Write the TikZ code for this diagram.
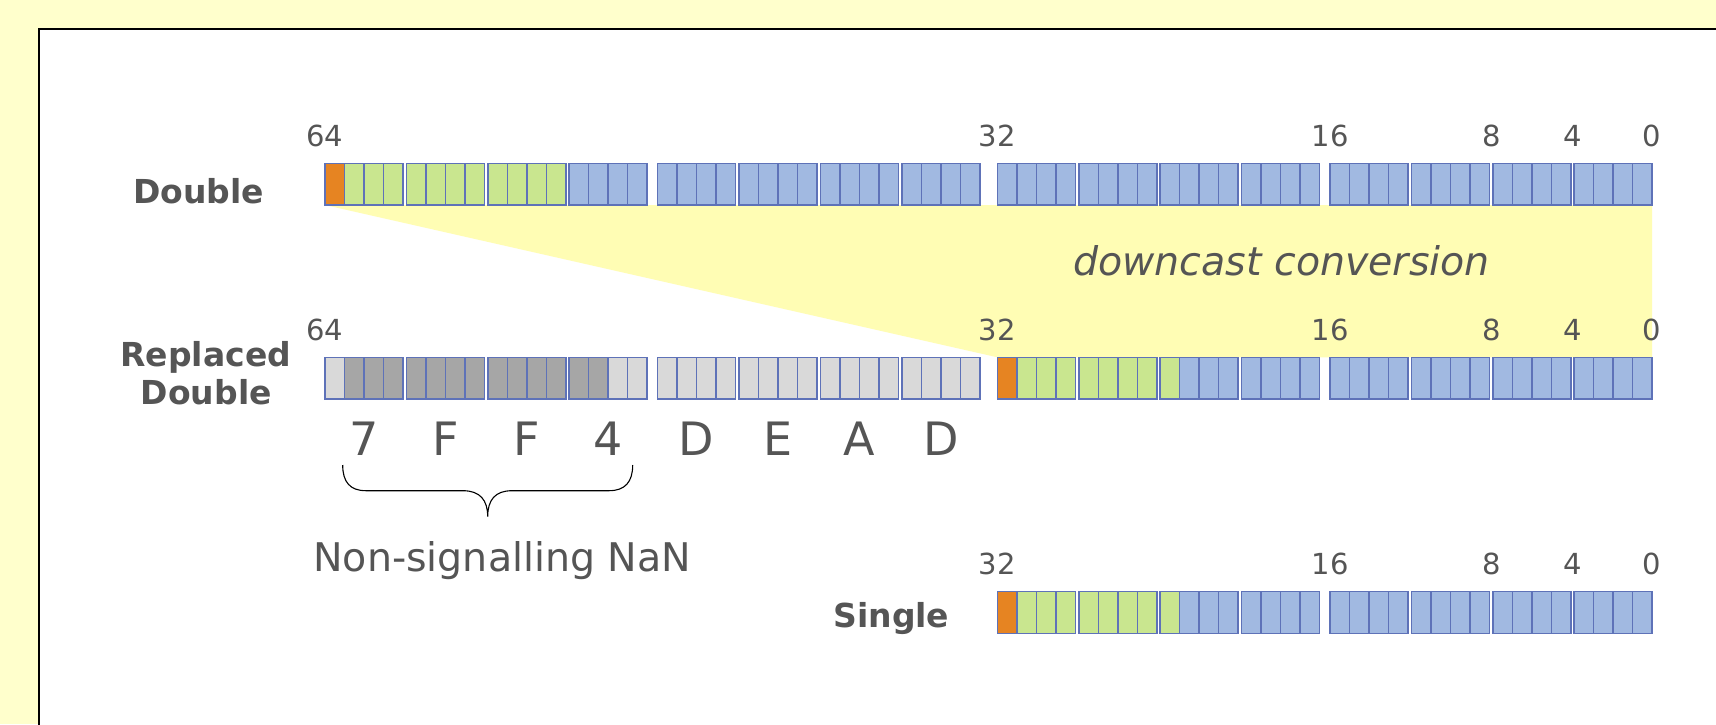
\documentclass[tikz,border=0pt]{standalone}
\usepackage{fontspec}
\setmainfont{DejaVu Sans}
\definecolor{pagebg}{HTML}{FFFFCC}
\definecolor{wedge}{HTML}{FFFDB4}
\definecolor{cO}{HTML}{E68422}
\definecolor{cG}{HTML}{C9E68F}
\definecolor{cB}{HTML}{A1B9E1}
\definecolor{cD}{HTML}{A6A6A6}
\definecolor{cL}{HTML}{D9D9D9}
\definecolor{cellline}{HTML}{5E72B8}
\definecolor{ink}{HTML}{555555}

\tikzset{
  cell/.style={draw=cellline, line width=1.5pt},
  bitnum/.style={inner sep=0, anchor=base, text=ink, font=\fontsize{29}{34}\selectfont},
  rowtitle/.style={inner sep=0, anchor=base, text=ink, font=\fontsize{33}{38}\selectfont\bfseries},
  hexdigit/.style={inner sep=0, anchor=base, text=ink, font=\fontsize{46}{54}\selectfont},
  caption/.style={inner sep=0, anchor=base, text=ink, font=\fontsize{39.5}{46}\selectfont},
  bracepath/.style={draw=black, line width=1.1pt},
}

% one nibble (four bits) of a register: #1 nibble index from the left,
% #2 top edge, #3-#6 fill colours of the four bits
\newcommand\nibble[6]{%
  \pgfmathsetmacro\gx{325+332.6*floor(#1/4)+7.2*(#1>=8)+81.4*mod(#1,4)}%
  \foreach \col [count=\i from 0] in {#3,#4,#5,#6} {
    \draw[cell, fill=\col] ({\gx+\i*19.5},#2) rectangle ++(19.5,41.6);
  }%
}

\begin{document}
\begin{tikzpicture}[x=1pt, y=-1pt]
  \useasboundingbox (0,0) rectangle (1716,724);
  \clip (0,0) rectangle (1716,724);
  \fill[pagebg] (0,0) rectangle (1716,724);
  \draw[line width=2pt, fill=white] (39.3,29) rectangle (1740,760);

  % projection of the low word onto the replaced double
  \fill[wedge] (325,205) -- (1652.2,205) -- (1652.2,357.3) -- (997.4,357.3) -- cycle;

  % Double
  \foreach \g/\ca/\cb/\cc/\cd in {0/cO/cG/cG/cG, 1/cG/cG/cG/cG, 2/cG/cG/cG/cG}
    {\nibble{\g}{163.3}{\ca}{\cb}{\cc}{\cd}}
  \foreach \g in {3,...,15} {\nibble{\g}{163.3}{cB}{cB}{cB}{cB}}

  % Replaced double
  \foreach \g/\ca/\cb/\cc/\cd in {0/cL/cD/cD/cD, 1/cD/cD/cD/cD, 2/cD/cD/cD/cD,
      3/cD/cD/cL/cL, 4/cL/cL/cL/cL, 5/cL/cL/cL/cL, 6/cL/cL/cL/cL, 7/cL/cL/cL/cL,
      8/cO/cG/cG/cG, 9/cG/cG/cG/cG, 10/cG/cB/cB/cB}
    {\nibble{\g}{357.3}{\ca}{\cb}{\cc}{\cd}}
  \foreach \g in {11,...,15} {\nibble{\g}{357.3}{cB}{cB}{cB}{cB}}

  % Single
  \foreach \g/\ca/\cb/\cc/\cd in {8/cO/cG/cG/cG, 9/cG/cG/cG/cG, 10/cG/cB/cB/cB}
    {\nibble{\g}{591.7}{\ca}{\cb}{\cc}{\cd}}
  \foreach \g in {11,...,15} {\nibble{\g}{591.7}{cB}{cB}{cB}{cB}}

  % bit positions
  \node[bitnum] (d64) at (325,146) {64};
  \node[bitnum] (d32) at (997.4,146) {32};
  \node[bitnum] (d16) at (1330,146) {16};
  \node[bitnum] (d8)  at (1491.5,146) {8};
  \node[bitnum] (d4)  at (1572.6,146) {4};
  \node[bitnum] (d0)  at (1652.2,146) {0};

  \node[bitnum] (r64) at (325,340) {64};
  \node[bitnum] (r32) at (997.4,340) {32};
  \node[bitnum] (r16) at (1330,340) {16};
  \node[bitnum] (r8)  at (1491.5,340) {8};
  \node[bitnum] (r4)  at (1572.6,340) {4};
  \node[bitnum] (r0)  at (1652.2,340) {0};

  \node[bitnum] (s32) at (997.4,574.3) {32};
  \node[bitnum] (s16) at (1330,574.3) {16};
  \node[bitnum] (s8)  at (1491.5,574.3) {8};
  \node[bitnum] (s4)  at (1572.6,574.3) {4};
  \node[bitnum] (s0)  at (1652.2,574.3) {0};

  % row titles
  \node[rowtitle] (tdouble) at (198.7,203.3) {Double};
  \node[rowtitle] (treplaced) at (205.8,366) {Replaced};
  \node[rowtitle] (treplaced2) at (206.3,404.5) {Double};
  \node[rowtitle] (tsingle) at (891.4,627.3) {Single};

  % hex value of the high word
  \foreach \x/\h [count=\k] in {364/7, 445.4/F, 526.8/F, 608.2/4, 696.6/D, 778/E, 859.4/A, 940.8/D}
    {\node[hexdigit] (hex\k) at (\x,455) {\h};}

  \node[caption, font=\fontsize{39.5}{46}\selectfont\itshape] (conv) at (1281.5,275) {downcast conversion};

  % brace under the NaN prefix
  \coordinate (braceL) at (342.7,465);
  \coordinate (braceR) at (632.7,465);
  \coordinate (braceTip) at (487.7,516.7);
  \draw[bracepath] (braceL) .. controls (342.7,482) and (350,490.7) .. (366,490.7)
    -- (463,490.7) .. controls (480,490.7) and (487.7,500) .. (braceTip)
    .. controls (487.7,500) and (495,490.7) .. (512,490.7)
    -- (609,490.7) .. controls (625,490.7) and (632.7,482) .. (braceR);

  \node[caption] (nan) at (502.2,571) {Non-signalling NaN};
\end{tikzpicture}
\end{document}
